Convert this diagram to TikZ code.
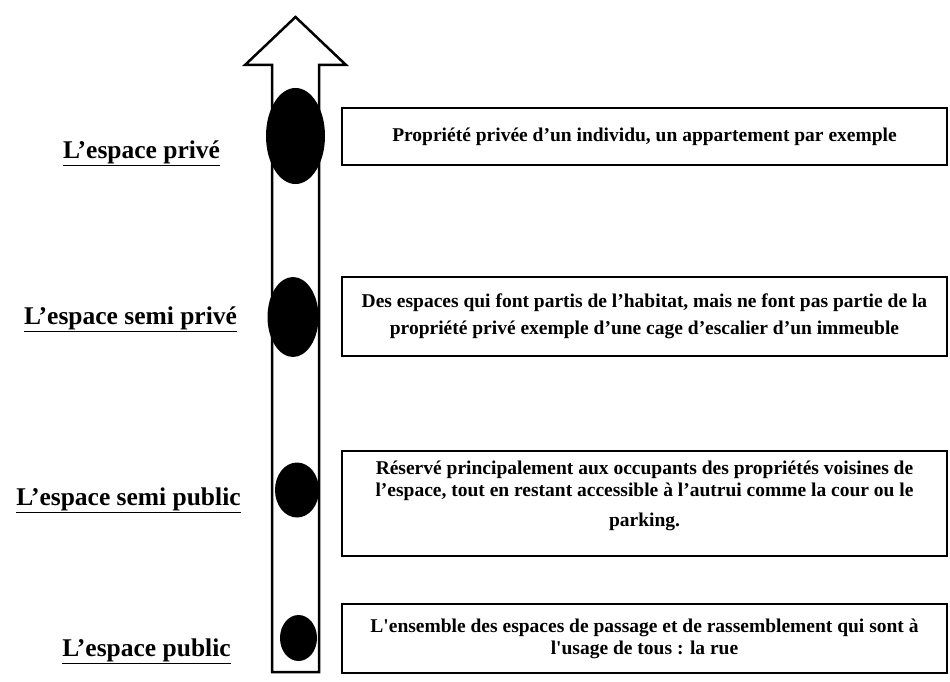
\documentclass[tikz,border=0pt]{standalone}
\usepackage{fontspec}
\setmainfont{Liberation Serif}
\usetikzlibrary{shapes.geometric, positioning}

\begin{document}
\begin{tikzpicture}[
    x=1pt,
    y=-1pt,
    level/.style={
        font=\fontsize{25.5}{30}\selectfont\bfseries,
        anchor=base,
        inner sep=0pt
    },
    dot/.style={
        ellipse,
        fill=black,
        draw=none,
        inner sep=0pt
    },
    descbox/.style={
        draw=black,
        line width=2.5pt,
        minimum width=605pt,
        inner sep=0pt
    },
    desc/.style={
        font=\fontsize{19.5}{22}\selectfont\bfseries,
        align=center,
        inner sep=0pt
    }
]
\useasboundingbox (0,0) rectangle (950,682);

\draw[line width=2.5pt, line join=miter, fill=white]
    (272,672) -- (272,65) -- (245,65) -- (295.5,17) -- (346,65) -- (319,65) -- (319,672) -- cycle;

\node[dot, minimum width=59pt, minimum height=96pt] (e1) at (295.5,136) {};
\node[dot, minimum width=51pt, minimum height=80pt] (e2) at (293,317) {};
\node[dot, minimum width=44pt, minimum height=55pt] (e3) at (297,490) {};
\node[dot, minimum width=37pt, minimum height=46pt] (e4) at (298.5,638) {};

\node[level] (l1) at (141.5,158) {\underline{L’espace privé}};
\node[level] (l2) at (130.5,324) {\underline{L’espace semi privé}};
\node[level] (l3) at (128.5,505) {\underline{L’espace semi public}};
\node[level] (l4) at (146.5,656) {\underline{L’espace public}};

\node[descbox, minimum height=57pt] (b1) at (644.5,136.5) {};
\node[desc] (t1) at (b1) {Propriété privée d’un individu, un appartement par exemple};

\node[descbox, minimum height=79pt] (b2) at (644.5,316.5) {};
\node[desc, font=\fontsize{19.5}{27}\selectfont\bfseries] (t2) at (b2) {Des espaces qui font partis de l’habitat, mais ne font pas partie de la\\
    propriété privé exemple d’une cage d’escalier d’un immeuble};

\node[descbox, minimum height=105pt] (b3) at (644.5,503.5) {};
\node[desc, anchor=north, below=11pt of b3.north] (t3) {Réservé principalement aux occupants des propriétés voisines de\\
    l’espace, tout en restant accessible à l’autrui comme la cour ou le\\[8pt]
    parking.};

\node[descbox, minimum height=69pt] (b4) at (644.5,638.5) {};
\node[desc] (t4) at (b4) {L\textquotesingle ensemble des espaces de passage et de rassemblement qui sont à\\
    l\textquotesingle usage de tous : la rue};

\end{tikzpicture}
\end{document}
